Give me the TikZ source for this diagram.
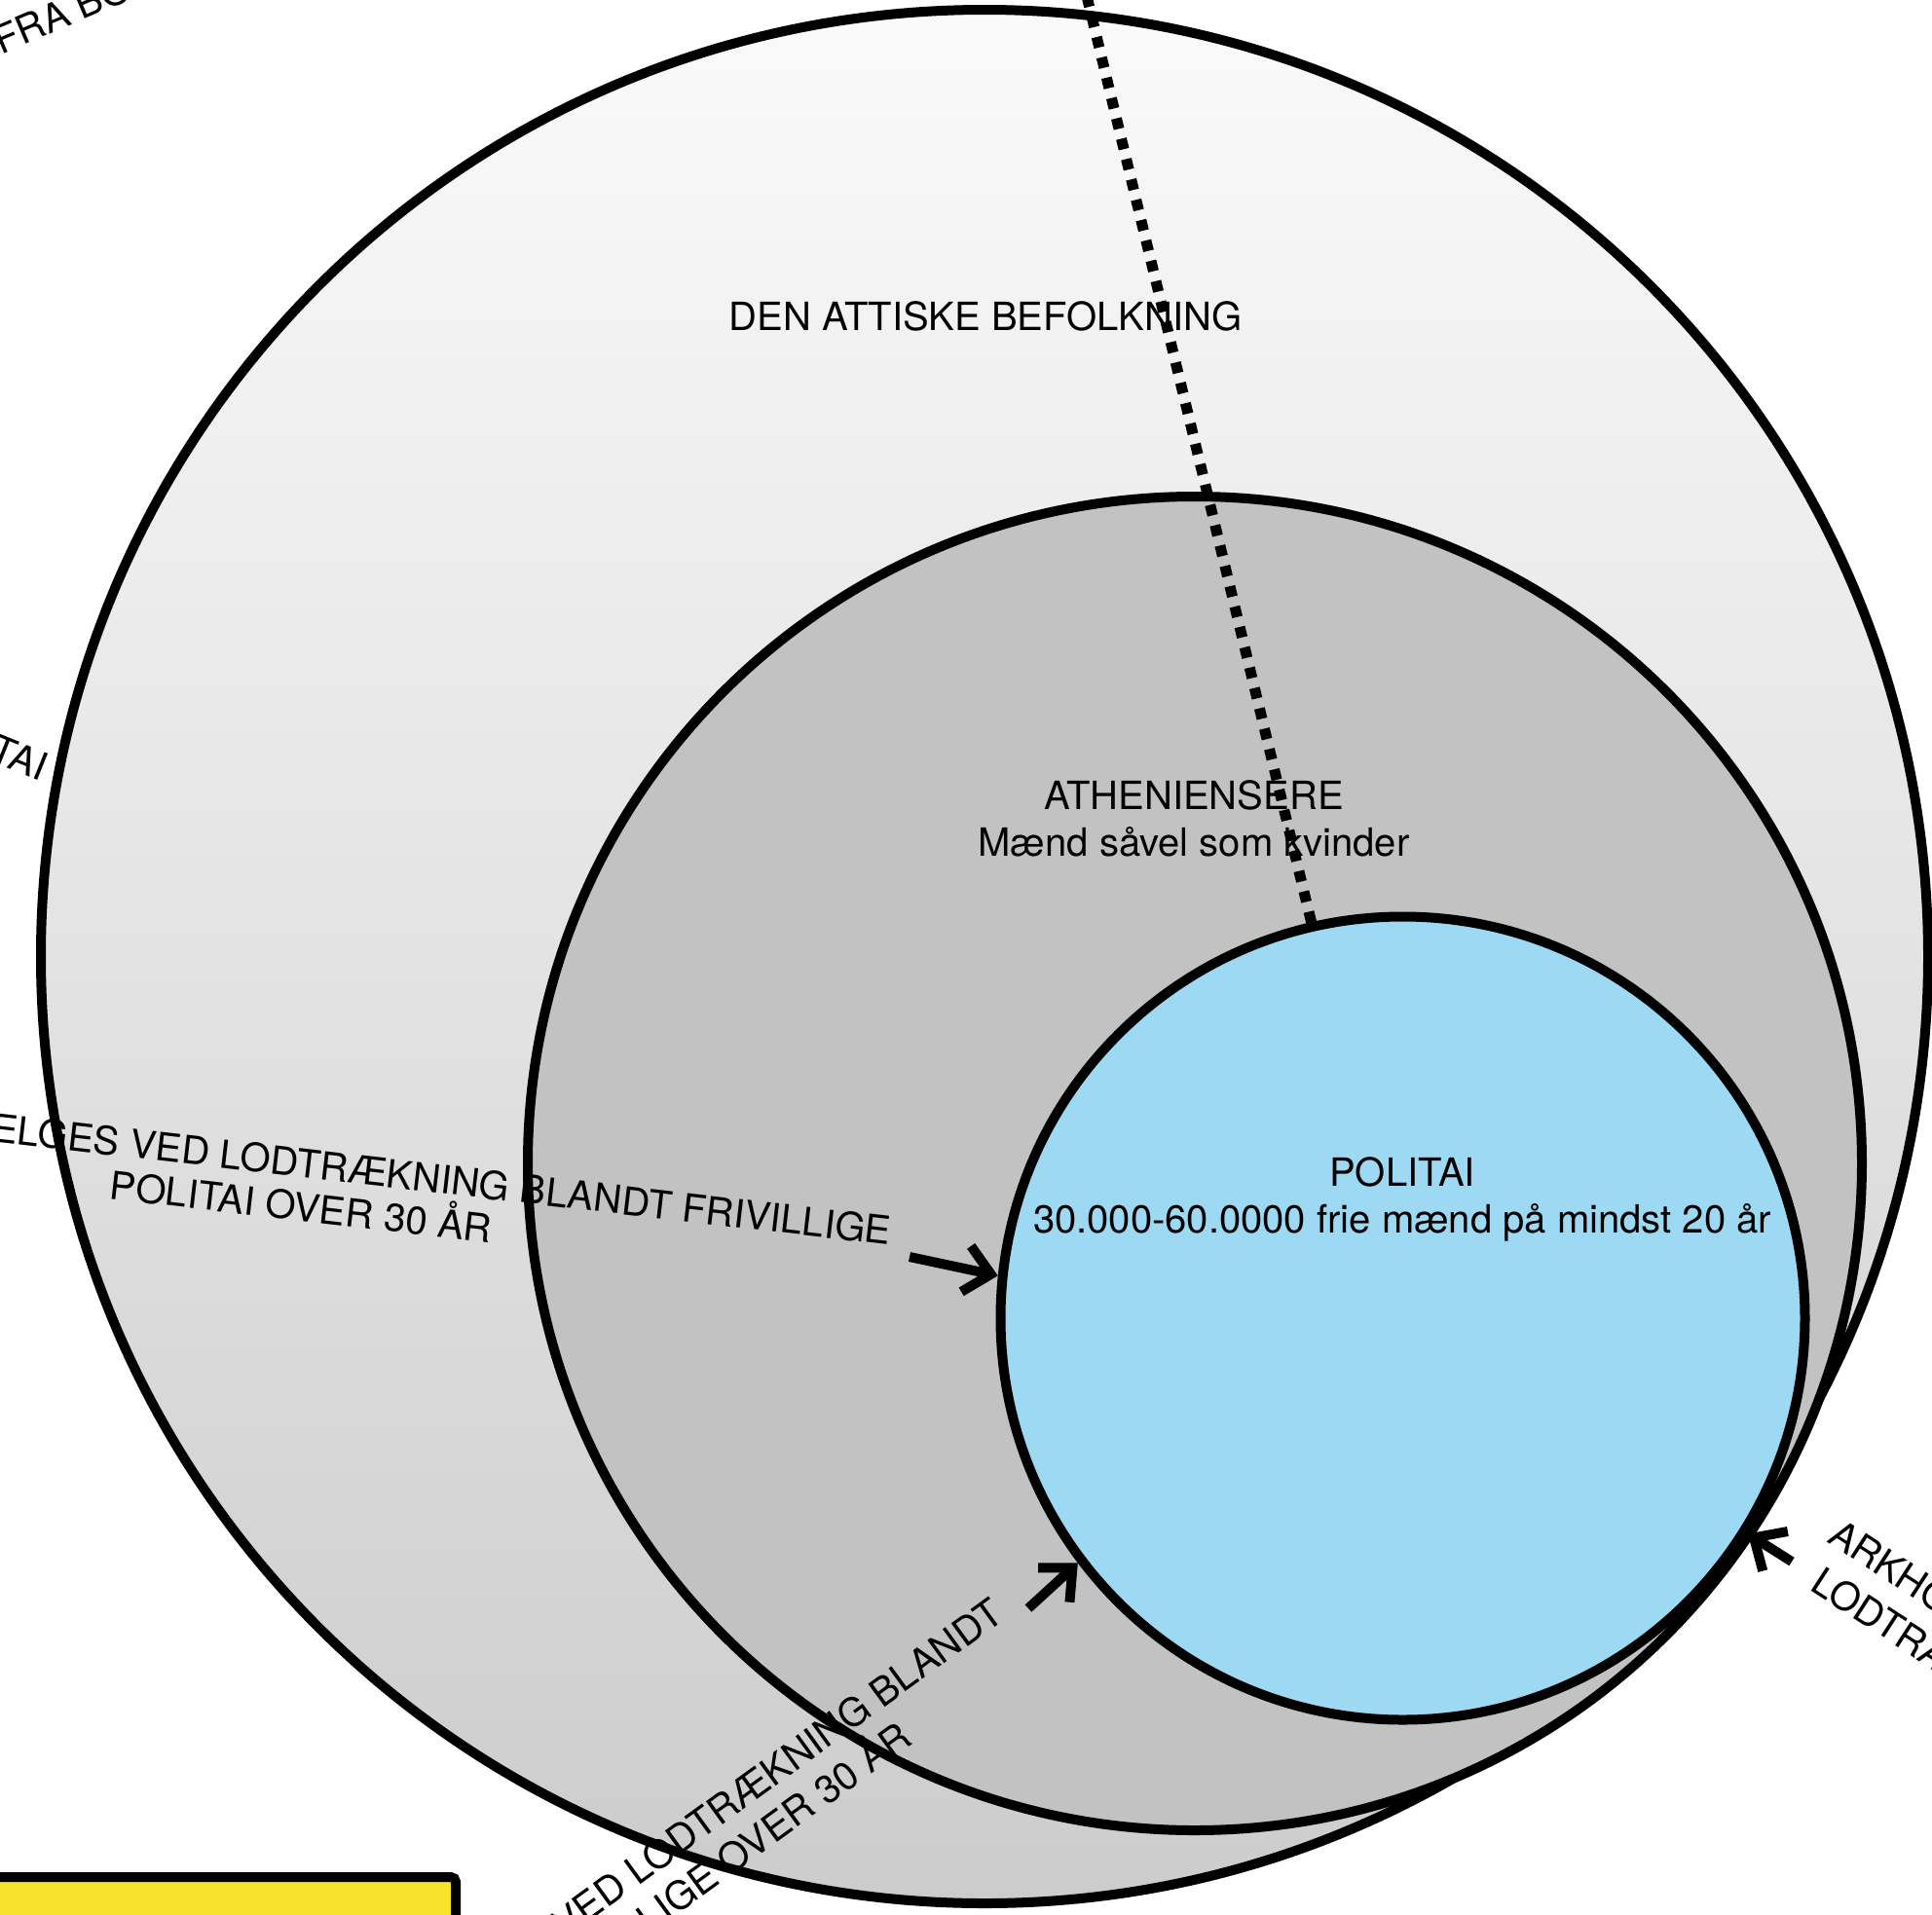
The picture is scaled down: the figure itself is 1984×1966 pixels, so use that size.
\documentclass[tikz,border=0pt]{standalone}
\usepackage{fontspec}
\setmainfont{TeX Gyre Heros}
\usetikzlibrary{arrows.meta,shapes.geometric}
\definecolor{outtop}{HTML}{FAFAFA}
\definecolor{outbot}{HTML}{CCCCCC}
\definecolor{midgray}{HTML}{C2C2C2}
\definecolor{polblue}{HTML}{9DD9F3}
\definecolor{boxyellow}{HTML}{F8E22C}
\begin{document}
\begin{tikzpicture}[x=1pt,y=-1pt,
  lbl/.style={font=\fontsize{40}{48}\selectfont, inner sep=0pt, outer sep=0pt},
  ring/.style={ellipse, draw=black, line width=10pt, inner sep=0pt},
  arr/.style={line width=10pt, -{Straight Barb[length=26pt,width=48pt]}},
  dots/.style={line width=11pt, dash pattern=on 11pt off 10.5pt}]
\useasboundingbox (0,0) rectangle (1984,1966);
\fill[white] (0,0) rectangle (1984,1966);
% circles
\node[ring, minimum width=1938pt, minimum height=1945pt, top color=outtop, bottom color=outbot] (attic) at (1011,982.5) {};
\node[ring, minimum width=1370pt, minimum height=1370pt, fill=midgray] (ath) at (1227,1195) {};
\node[ring, minimum width=826pt, minimum height=825pt, fill=polblue] (pol) at (1440.5,1354) {};
% dotted line
\coordinate (dtop) at (1116,-4);
\draw[dots] (pol.103) -- (dtop);
% main labels
\node[lbl, anchor=base] (tatt) at (1012,339.7) {DEN ATTISKE BEFOLKNING};
\node[lbl, anchor=base, align=center] (tath) at (1226,879) {ATHENIENSERE\\Mænd såvel som kvinder};
\node[lbl, anchor=base, align=center] (tpol) at (1440,1266.5) {POLITAI\\30.000-60.0000 frie mænd på mindst 20 år};
% left label and arrow
\node[lbl, rotate=-6.6, anchor=base east] (tl1) at (913.5,1279) {ELGES VED LODTRÆKNING BLANDT FRIVILLIGE};
\node[lbl, rotate=-6.6, anchor=base] (tl2) at (307.5,1254) {POLITAI OVER 30 ÅR};
\coordinate (tailL) at (934,1291);
\draw[arr] (tailL) -- (pol.174);
% bottom label and arrow
\node[lbl, rotate=36, anchor=base east] (tb1) at (1033,1663) {VED LODTRÆKNING BLANDT};
\node[lbl, rotate=36, anchor=base east] (tb2) at (939,1790) {ILLIGE OVER 30 ÅR};
\coordinate (tailB) at (1056,1652);
\draw[arr] (tailB) -- (pol.217);
% right label and arrow
\node[lbl, rotate=-33, anchor=base west] (tr1) at (1875,1583) {ARKHO};
\node[lbl, rotate=-33, anchor=base west] (tr2) at (1857,1632) {LODTRÆ};
\coordinate (tailR) at (1840,1604);
\draw[arr] (tailR) -- (pol.-32.5);
% clipped labels at the edges
\node[lbl, rotate=-22, anchor=base east] (ttai) at (42,802.6) {TAI};
\node[lbl, rotate=23, anchor=base west] (tfra) at (1,56) {FRA BO};
% yellow box
\draw[line width=10pt, fill=boxyellow, rounded corners=5pt] (-30,1928) rectangle (468,2010);
\end{tikzpicture}
\end{document}
